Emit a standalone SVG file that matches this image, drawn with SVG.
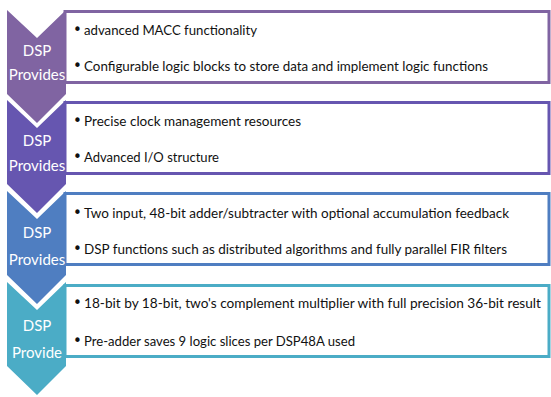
<svg xmlns="http://www.w3.org/2000/svg" width="551" height="397" viewBox="0 0 551 397">
  <defs>
    <!-- chevron pointing down, origin at its top-left corner -->
    <path id="chev" d="M0,0 L30,28 L59,0 L59,84 L30,113 L0,84 Z"/>
  </defs>
  <style>
    .box { fill: #ffffff; stroke-width: 3; }
    .item { font-family: Lato, "Liberation Sans", sans-serif; font-size: 14px; fill: #111111; }
    .item.long { font-size: 13px; }
    .dot { font-family: "DejaVu Sans", sans-serif; font-size: 15px; fill: #111111; }
    .lbl { font-family: Lato, "Liberation Sans", sans-serif; font-size: 15px; fill: #ffffff; text-anchor: middle; }
  </style>
  <rect width="551" height="397" fill="#ffffff"/>

  <g id="row1">
    <rect class="box" x="65" y="11.5" width="484" height="71" stroke="#8064a2"/>
    <use href="#chev" x="7" y="10" fill="#8064a2"/>
    <text class="lbl" x="37" y="56">DSP</text>
    <text class="lbl" x="37" y="80">Provides</text>
    <text class="dot" x="73" y="35">•</text>
    <text class="item" x="84" y="35" textLength="173" lengthAdjust="spacingAndGlyphs">advanced MACC functionality</text>
    <text class="dot" x="73" y="71">•</text>
    <text class="item" x="84" y="71" textLength="404" lengthAdjust="spacingAndGlyphs">Configurable logic blocks to store data and implement logic functions</text>
  </g>

  <g id="row2">
    <rect class="box" x="65" y="102.5" width="484" height="71" stroke="#6656b0"/>
    <use href="#chev" x="7" y="100" fill="#6656b0"/>
    <text class="lbl" x="37" y="146">DSP</text>
    <text class="lbl" x="37" y="171">Provides</text>
    <text class="dot" x="73" y="126">•</text>
    <text class="item" x="84" y="126" textLength="217" lengthAdjust="spacingAndGlyphs">Precise clock management resources</text>
    <text class="dot" x="73" y="162">•</text>
    <text class="item" x="84" y="162" textLength="135" lengthAdjust="spacingAndGlyphs">Advanced I/O structure</text>
  </g>

  <g id="row3">
    <rect class="box" x="65" y="193.5" width="484" height="71" stroke="#4f7ec1"/>
    <use href="#chev" x="7" y="191" fill="#4f7ec1"/>
    <text class="lbl" x="37" y="238">DSP</text>
    <text class="lbl" x="37" y="265">Provides</text>
    <text class="dot" x="73" y="218">•</text>
    <text class="item" x="84" y="218" textLength="425" lengthAdjust="spacingAndGlyphs">Two input, 48-bit adder/subtracter with optional  accumulation feedback</text>
    <text class="dot" x="73" y="254">•</text>
    <text class="item" x="84" y="254" textLength="423" lengthAdjust="spacingAndGlyphs">DSP functions such as distributed algorithms and fully parallel FIR filters</text>
  </g>

  <g id="row4">
    <rect class="box" x="65" y="285.5" width="484" height="71" stroke="#4bacc6"/>
    <use href="#chev" x="7" y="282" fill="#4bacc6"/>
    <text class="lbl" x="37" y="331">DSP</text>
    <text class="lbl" x="37" y="358">Provide</text>
    <text class="dot" x="73" y="308">•</text>
    <text class="item long" x="84" y="308" textLength="457" lengthAdjust="spacingAndGlyphs">18-bit by 18-bit, two's complement multiplier with full precision 36-bit result</text>
    <text class="dot" x="73" y="346">•</text>
    <text class="item" x="84" y="346" textLength="271" lengthAdjust="spacingAndGlyphs">Pre-adder saves 9 logic slices per DSP48A used</text>
  </g>
</svg>
